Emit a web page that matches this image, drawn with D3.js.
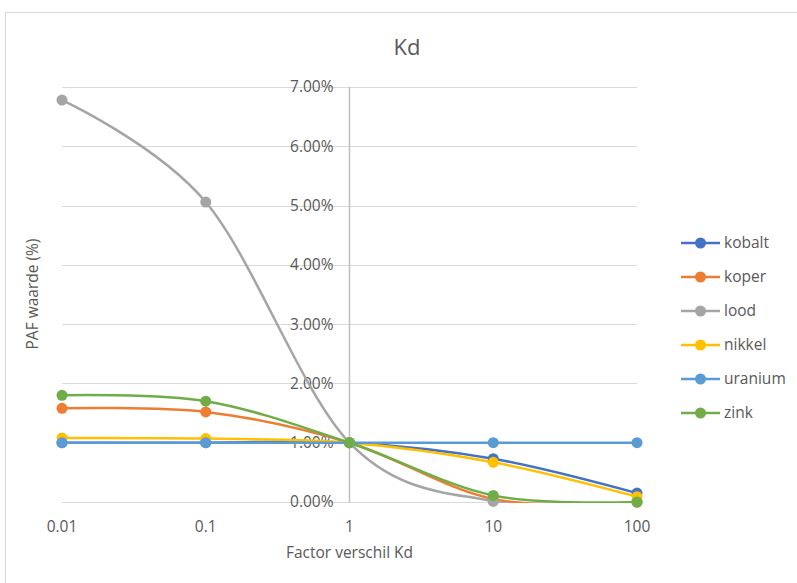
<!DOCTYPE html>
<html>
<head>
    <meta charset="utf-8">
    <script type="text/javascript" src="https://d3js.org/d3.v7.min.js"></script>
    <style>
        body {
            background: #ffffff;
            margin: 0;
            padding: 0;
        }
        text {
            font-family: "Open Sans", "Liberation Sans", sans-serif;
            fill: #595959;
        }
        .grid line {
            stroke: #d9d9d9;
            stroke-width: 1;
        }
        .tick-label {
            font-size: 15.5px;
        }
    </style>
</head>
<body>
    <div id="chart"></div>
    <script>
        // x categories (factor verschil Kd) and series values in %
        var factors = [0.01, 0.1, 1, 10, 100];
        var xTickLabels = ["0.01", "0.1", "1", "10", "100"];
        var yTicks = [0, 1, 2, 3, 4, 5, 6, 7];

        var kobalt  = [1.00, 1.00, 1.00, 0.73, 0.15];
        var koper   = [1.58, 1.52, 1.00, 0.05, 0.00];
        var lood    = [6.78, 5.06, 1.00, 0.01, 0.00];
        var nikkel  = [1.08, 1.07, 1.00, 0.67, 0.09];
        var uranium = [1.00, 1.00, 1.00, 1.00, 1.00];
        var zink    = [1.80, 1.70, 1.00, 0.11, 0.00];

        var seriesNames = ["kobalt", "koper", "lood", "nikkel", "uranium", "zink"];
        var seriesData = [kobalt, koper, lood, nikkel, uranium, zink];
        var colors = ["#4472C4", "#ED7D31", "#A5A5A5", "#FFC000", "#5B9BD5", "#70AD47"];

        var width = 797, height = 583;

        var svg = d3.select("#chart")
            .append("svg")
            .attr("width", width)
            .attr("height", height);

        // chart border
        svg.append("rect")
            .attr("x", 5.5).attr("y", 12.5)
            .attr("width", 800).attr("height", 600)
            .attr("fill", "#fff")
            .attr("stroke", "#d9d9d9");

        var x = d3.scaleLog().domain([0.01, 100]).range([62, 637]);
        var y = d3.scaleLinear().domain([0, 7]).range([502, 87]);

        // lines below 0% are cut off at the plot area, like Excel does
        svg.append("clipPath").attr("id", "plotClip")
            .append("rect")
            .attr("x", 0).attr("y", 0)
            .attr("width", width).attr("height", y(0) + 1);

        // horizontal gridlines
        svg.append("g").attr("class", "grid")
            .selectAll("line")
            .data(yTicks)
            .enter().append("line")
            .attr("x1", x(0.01)).attr("x2", x(100))
            .attr("y1", function(d) { return Math.round(y(d)) + 0.5; })
            .attr("y2", function(d) { return Math.round(y(d)) + 0.5; });

        // vertical axis crosses at 1
        svg.append("line")
            .attr("x1", Math.round(x(1)) + 0.5).attr("x2", Math.round(x(1)) + 0.5)
            .attr("y1", y(7)).attr("y2", y(0))
            .attr("stroke", "#bfbfbf").attr("stroke-width", 1.5);

        svg.append("g")
            .selectAll("text")
            .data(yTicks)
            .enter().append("text")
            .attr("class", "tick-label")
            .attr("x", x(1) - 16)
            .attr("y", function(d) { return y(d); })
            .attr("dy", "0.35em")
            .attr("text-anchor", "end")
            .text(function(d) { return d.toFixed(2) + "%"; });

        svg.append("g")
            .selectAll("text")
            .data(factors)
            .enter().append("text")
            .attr("class", "tick-label")
            .attr("x", function(d) { return x(d); })
            .attr("y", 532)
            .attr("text-anchor", "middle")
            .text(function(d, i) { return xTickLabels[i]; });

        // titles
        svg.append("text")
            .attr("x", 407).attr("y", 55)
            .attr("text-anchor", "middle")
            .style("font-size", "22px")
            .text("Kd");

        svg.append("text")
            .attr("x", x(1)).attr("y", 558)
            .attr("text-anchor", "middle")
            .style("font-size", "15.5px")
            .text("Factor verschil Kd");

        svg.append("text")
            .attr("transform", "translate(38,294) rotate(-90)")
            .attr("text-anchor", "middle")
            .style("font-size", "15.5px")
            .text("PAF waarde (%)");

        // lines with markers
        var line = d3.line()
            .x(function(d, i) { return x(factors[i]); })
            .y(function(d) { return y(d); })
            .curve(d3.curveCardinal.tension(0));

        seriesData.forEach(function(vals, s) {
            var g = svg.append("g");
            g.append("path")
                .attr("d", line(vals))
                .attr("clip-path", "url(#plotClip)")
                .attr("fill", "none")
                .attr("stroke", colors[s])
                .attr("stroke-width", 2.5)
                .attr("stroke-linecap", "round");
            g.selectAll("circle")
                .data(vals)
                .enter().append("circle")
                .attr("cx", function(d, i) { return x(factors[i]); })
                .attr("cy", function(d) { return y(d); })
                .attr("r", 5.5)
                .attr("fill", colors[s]);
        });

        // legend
        var legend = svg.append("g").selectAll("g")
            .data(seriesNames)
            .enter().append("g")
            .attr("transform", function(d, i) { return "translate(681," + (243 + i * 34) + ")"; });
        legend.append("line")
            .attr("x1", 0).attr("x2", 39)
            .attr("stroke", function(d, i) { return colors[i]; })
            .attr("stroke-width", 2.5);
        legend.append("circle")
            .attr("cx", 19.5).attr("r", 5.5)
            .attr("fill", function(d, i) { return colors[i]; });
        legend.append("text")
            .attr("x", 43).attr("dy", "0.35em")
            .style("font-size", "15.5px")
            .text(function(d) { return d; });
    </script>
</body>
</html>
